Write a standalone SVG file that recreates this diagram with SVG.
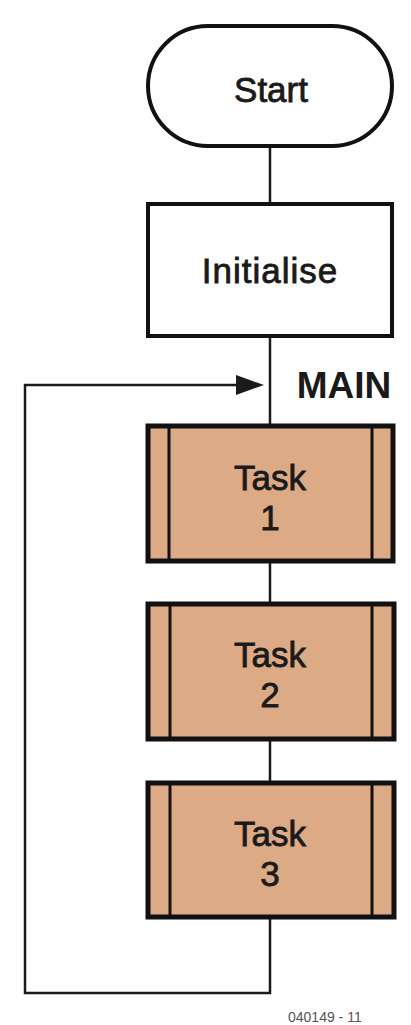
<svg xmlns="http://www.w3.org/2000/svg" width="411" height="1025" viewBox="0 0 411 1025">
<defs>
<style>
.t{font-family:"Liberation Sans",Arial,sans-serif;font-size:35px;fill:#1a1a1a;stroke:#1a1a1a;stroke-width:0.8;text-anchor:middle}
.b{font-weight:bold;stroke:none}
.box{fill:#fff;stroke:#111;stroke-width:4}
.task{fill:#dcaa85;stroke:#111;stroke-width:5}
.inner{stroke:#111;stroke-width:3}
.ln{stroke:#1a1a1a;stroke-width:2.5;fill:none}
</style>
</defs>
<rect width="411" height="1025" fill="#fff"/>
<g id="connectors">
<line class="ln" x1="270" y1="147" x2="270" y2="204"/>
<line class="ln" x1="270" y1="337" x2="270" y2="426"/>
<line class="ln" x1="270" y1="562" x2="270" y2="604"/>
<line class="ln" x1="270" y1="740" x2="270" y2="783"/>
<polyline class="ln" points="270,917 270,993 25,993 25,385 238,385"/>
<path d="M236,375 L264,385 L236,395 Z" fill="#1a1a1a"/>
</g>
<g id="start">
<rect class="box" x="148" y="26" width="244" height="120" rx="60" ry="60"/>
<text class="t" x="271" y="102">Start</text>
</g>
<g id="initialise">
<rect class="box" x="148" y="204" width="244" height="132"/>
<text class="t" x="270" y="283" letter-spacing="1">Initialise</text>
</g>
<g id="main-label">
<text class="t b" x="344" y="398" style="font-size:37px">MAIN</text>
</g>
<g id="task1">
<rect class="task" x="148" y="426" width="245" height="135"/>
<line class="inner" x1="169" y1="428" x2="169" y2="559"/>
<line class="inner" x1="372" y1="428" x2="372" y2="559"/>
<text class="t" x="270" y="490">Task</text>
<text class="t" x="270" y="530">1</text>
</g>
<g id="task2">
<rect class="task" x="148" y="604" width="246" height="135"/>
<line class="inner" x1="170" y1="606" x2="170" y2="737"/>
<line class="inner" x1="372" y1="606" x2="372" y2="737"/>
<text class="t" x="270" y="667">Task</text>
<text class="t" x="270" y="707">2</text>
</g>
<g id="task3">
<rect class="task" x="148" y="783" width="246" height="134"/>
<line class="inner" x1="170" y1="785" x2="170" y2="915"/>
<line class="inner" x1="372" y1="785" x2="372" y2="915"/>
<text class="t" x="270" y="846">Task</text>
<text class="t" x="270" y="886">3</text>
</g>
<text x="288" y="1022" font-family="Liberation Sans,Arial,sans-serif" font-size="14" fill="#555">040149 - 11</text>
</svg>
